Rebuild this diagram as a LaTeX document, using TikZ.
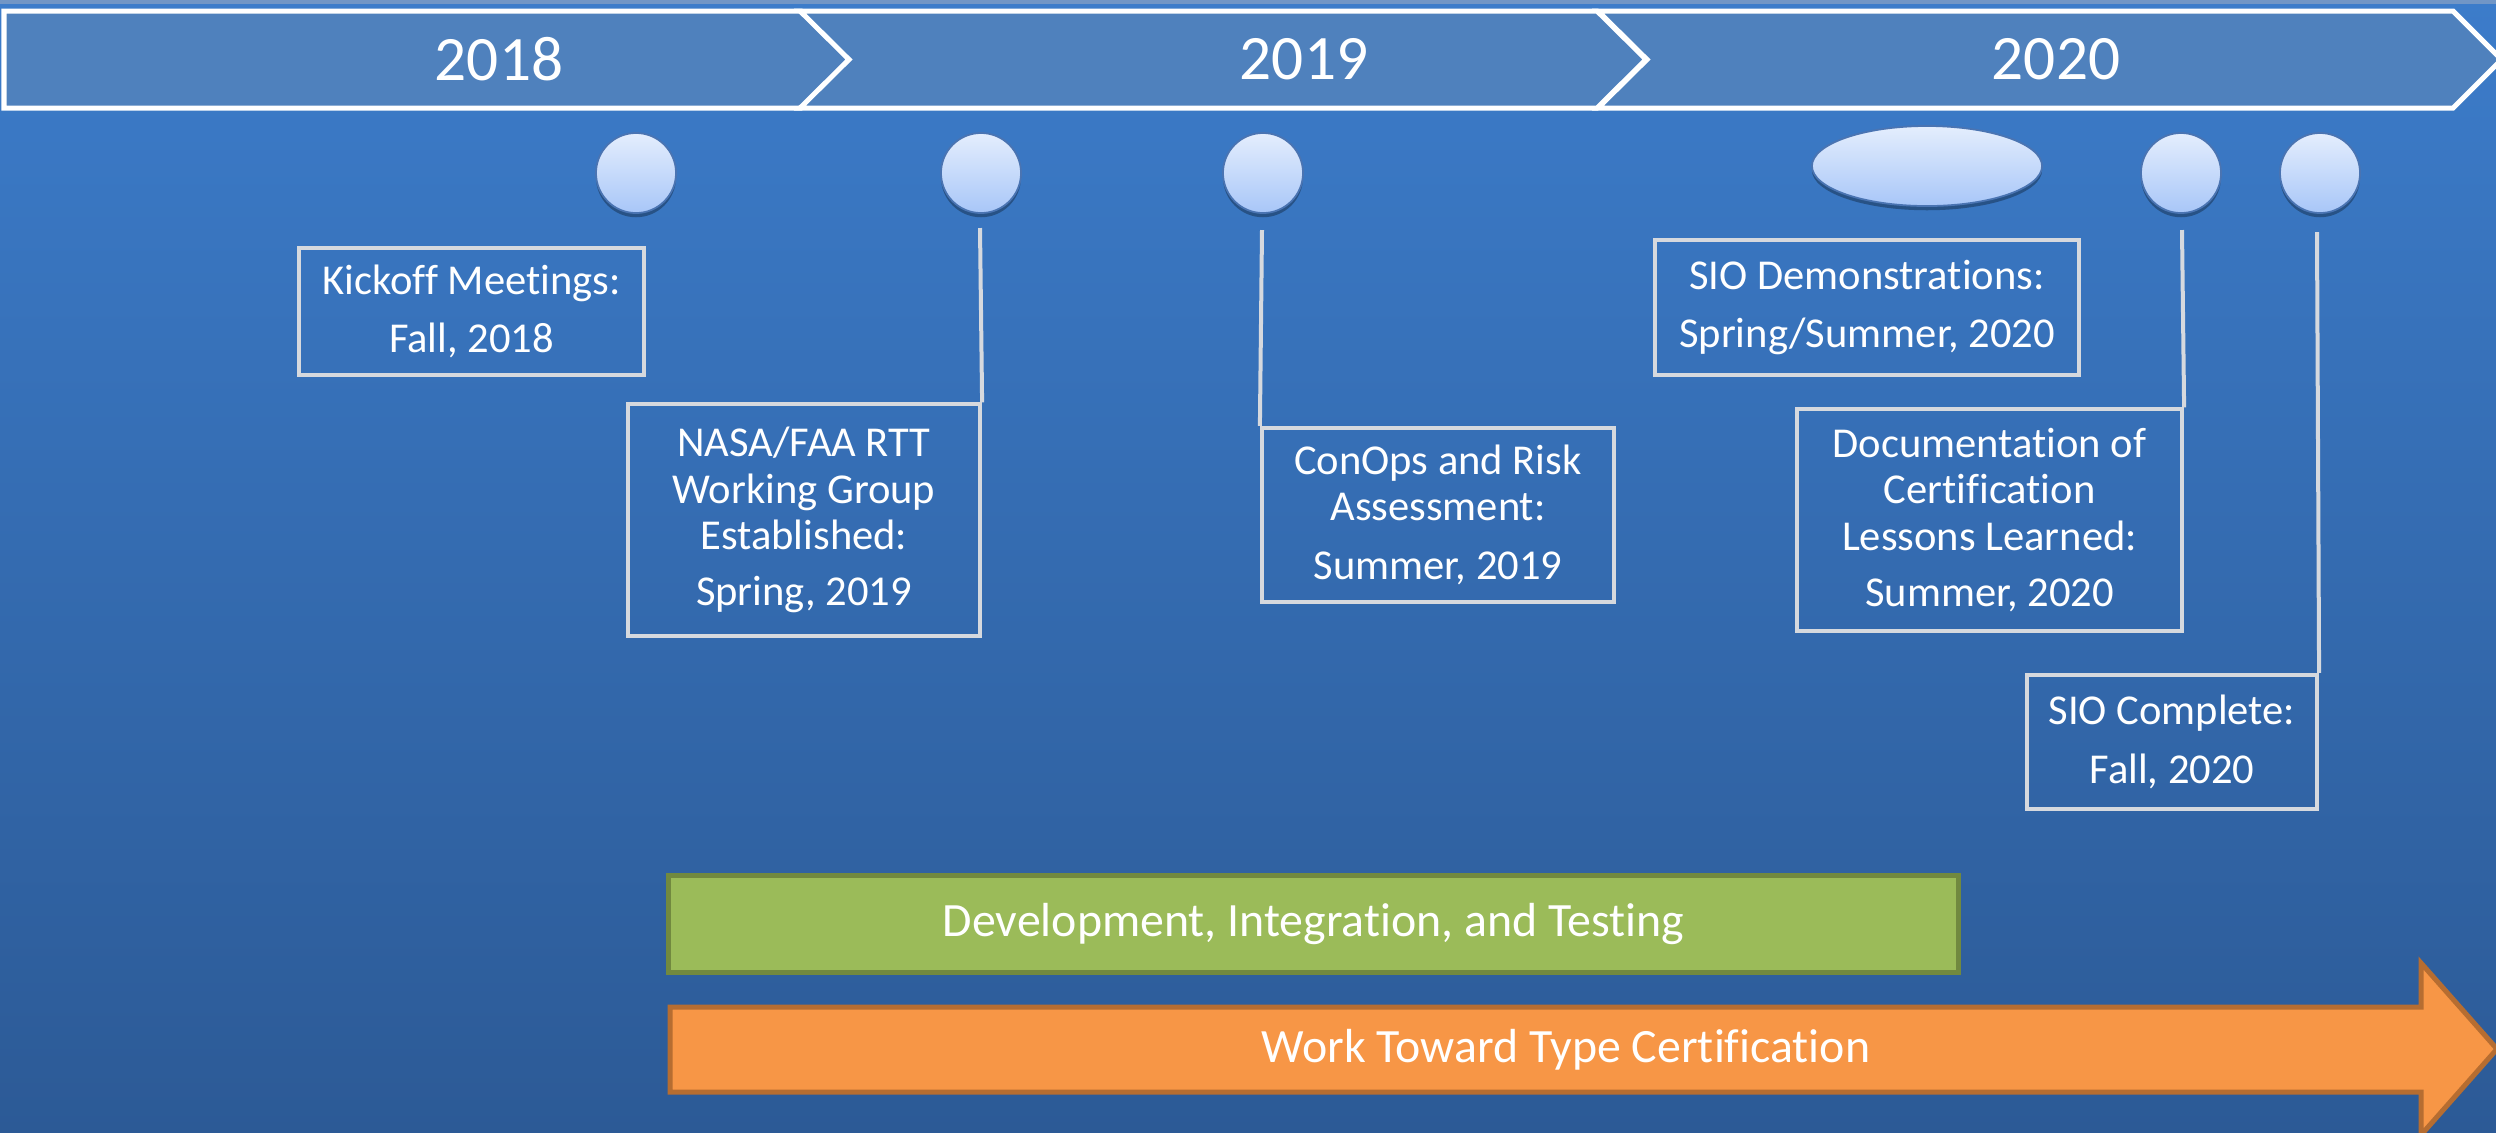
\documentclass[tikz,border=0pt]{standalone}
\usepackage{fontspec}
\setmainfont{Carlito}[Ligatures={NoCommon}]
\usetikzlibrary{shapes.geometric,shadows}
\definecolor{bgtop}{HTML}{3C7CCA}
\definecolor{bgbot}{HTML}{2C5A96}
\definecolor{banner}{HTML}{4F81BD}
\definecolor{ctop}{HTML}{E4EEFD}
\definecolor{cbot}{HTML}{A8C6F8}
\definecolor{cedge}{HTML}{4A74B2}
\definecolor{boxgray}{HTML}{D6D9DE}
\definecolor{gfill}{HTML}{9BBB59}
\definecolor{gedge}{HTML}{71893F}
\definecolor{ofill}{HTML}{F79646}
\definecolor{oedge}{HTML}{B66D31}
\definecolor{stripc}{HTML}{7196C6}
\begin{document}
\begin{tikzpicture}[x=0.01cm,y=-0.01cm,
  yearlbl/.style={text=white,font=\fontsize{18pt}{21pt}\selectfont,inner sep=0pt},
  chev/.style={fill=banner,draw=white,line width=0.05cm,line join=miter},
  circ/.style={ellipse,minimum width=0.8cm,minimum height=0.8cm,inner sep=0pt,
    top color=ctop,bottom color=cbot,draw=cedge,line width=0.5pt,
    drop shadow={shadow xshift=0pt,shadow yshift=-1.2pt,opacity=0.3,fill=black}},
  tbox/.style={draw=boxgray,line width=0.04cm,align=center,text=white,inner sep=0pt,
    font=\fontsize{12.1pt}{13.2pt}\selectfont},
  conn/.style={draw=boxgray,line width=0.04cm},
  barlbl/.style={text=white,font=\fontsize{13.6pt}{16pt}\selectfont,inner sep=0pt}]
\useasboundingbox (0,0) rectangle (2496,1132);
% background
\shade[top color=bgtop,bottom color=bgbot] (0,0) rectangle (2496,1132);
\fill[stripc] (0,0) rectangle (2496,4);
% banner chevrons
\path[chev] (4,11) -- (801,11) -- (850,59.5) -- (801,108) -- (4,108) -- cycle;
\path[chev] (800,11) -- (1597,11) -- (1646,59.5) -- (1597,108) -- (800,108) -- (849,59.5) -- cycle;
\path[chev] (1598,11) -- (2453,11) -- (2501.5,59.5) -- (2453,108) -- (1598,108) -- (1647,59.5) -- cycle;
\node[yearlbl] (y1) at (499,59) {2018};
\node[yearlbl] (y2) at (1304,59) {2019};
\node[yearlbl] (y3) at (2056,59) {2020};
% milestone markers
\node[circ] (c1) at (636,173) {};
\node[circ] (c2) at (981,173) {};
\node[circ] (c3) at (1263,173) {};
\node[circ,minimum width=2.3cm] (c4) at (1927,166) {};
\node[circ] (c5) at (2181,173) {};
\node[circ] (c6) at (2320,173) {};
% text boxes
\node[tbox,minimum width=3.45cm,minimum height=1.27cm] (b1) at (471.5,311.5)
  {Kickoff Meetings:\\[3.5pt]Fall, 2018};
\node[tbox,minimum width=3.52cm,minimum height=2.31cm] (b2) at (804,520)
  {NASA/FAA RTT\\Working Group\\Established:\\[2.8pt]Spring, 2019};
\node[tbox,minimum width=3.52cm,minimum height=1.74cm] (b3) at (1438,515)
  {ConOps and Risk\\Assessment:\\[3.5pt]Summer, 2019};
\node[tbox,minimum width=4.24cm,minimum height=1.35cm] (b4) at (1867,307.5)
  {SIO Demonstrations:\\[3.5pt]Spring/Summer, 2020};
\node[tbox,minimum width=3.85cm,minimum height=2.21cm] (b5) at (1989.5,520)
  {Documentation of\\Certification\\Lessons Learned:\\[2.8pt]Summer, 2020};
\node[tbox,minimum width=2.9cm,minimum height=1.34cm] (b6) at (2172,742)
  {SIO Complete:\\[3.5pt]Fall, 2020};
% connectors
\coordinate (t2) at (980,228);
\coordinate (t3) at (1262,230);
\coordinate (t5) at (2182,230);
\coordinate (t6) at (2317,232);
\draw[conn] (t2) -- (b2.north east);
\draw[conn] (t3) -- (b3.north west);
\draw[conn] (t5) -- (b5.north east);
\draw[conn] (t6) -- (b6.north east);
% development bar
\node[fill=gfill,draw=gedge,line width=0.05cm,minimum width=12.89cm,minimum height=0.96cm,inner sep=0pt] (dev) at (1313.5,924) {};
\node[barlbl] (devt) at (dev.center) {Development, Integration, and Testing};
% certification arrow
\path[fill=ofill,draw=oedge,line width=0.05cm,line join=miter]
  (670,1007) -- (2421,1007) -- (2421,963) -- (2497,1049) -- (2421,1135) -- (2421,1092) -- (670,1092) -- cycle;
\node[barlbl] (cert) at (1566,1050) {Work Toward Type Certification};
\end{tikzpicture}
\end{document}
